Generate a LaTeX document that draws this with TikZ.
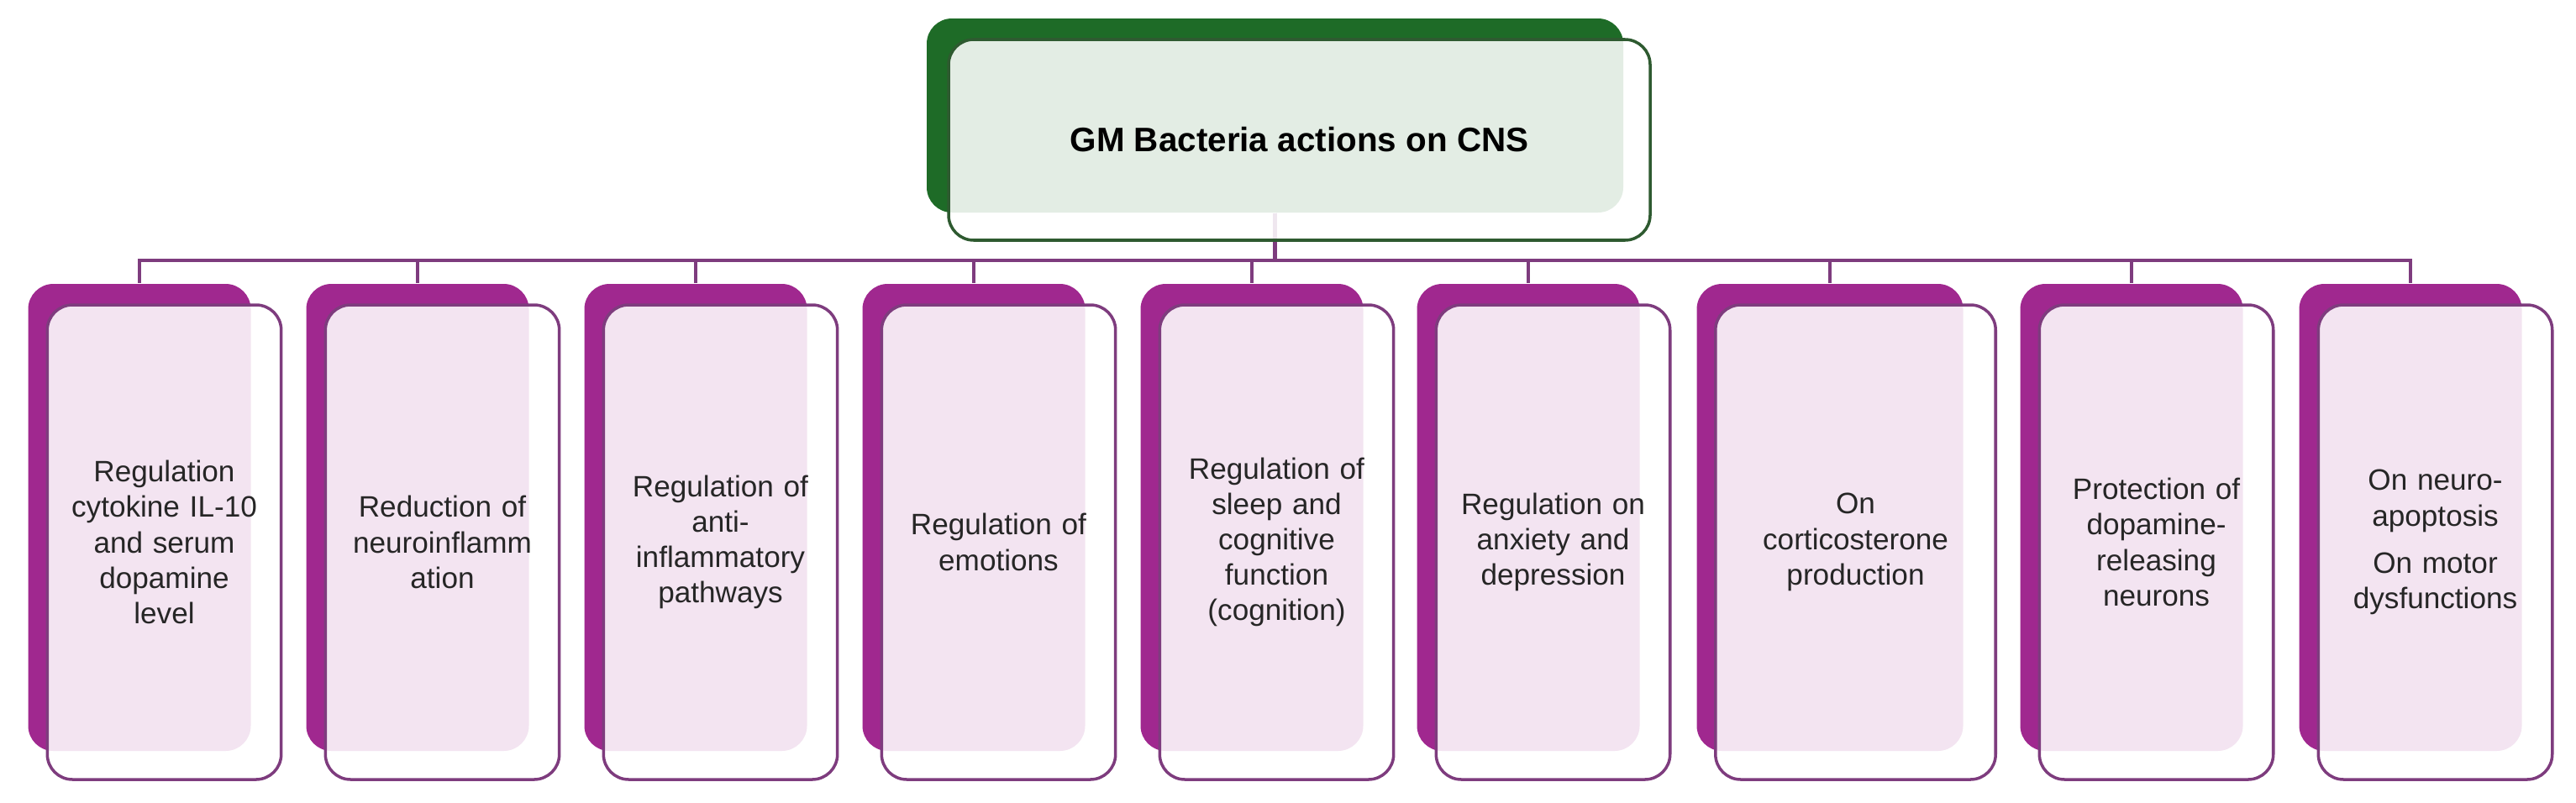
\documentclass[tikz,border=0pt]{standalone}
\usepackage{fontspec}
\setmainfont{Liberation Sans}
\usetikzlibrary{positioning}

\definecolor{gmgreen}{HTML}{1E6B27}
\definecolor{gmgreenline}{HTML}{2E5A30}
\definecolor{gmpurple}{HTML}{A0288F}
\definecolor{gmpurpleline}{HTML}{7E3C7E}
\definecolor{gmtext}{HTML}{262626}

\begin{document}
\begin{tikzpicture}[
    backbox/.style  = { rectangle, rounded corners=0.3cm, fill=gmpurple,
                        minimum width=2.65cm, minimum height=5.56cm, inner sep=0pt },
    frontbox/.style = { rectangle, rounded corners=0.3cm, draw=gmpurpleline, line width=1pt,
                        fill=white, fill opacity=0.88, text opacity=1,
                        minimum width=2.73cm, minimum height=5.65cm,
                        text width=2.55cm, align=center, font=\fontsize{10}{12}\selectfont,
                        text=gmtext },
    link/.style     = { draw=gmpurpleline, line width=1.2pt },
    ]

    \useasboundingbox (0,0) rectangle (30.66,-9.55);

    % root
    \node[rectangle, rounded corners=0.3cm, fill=gmgreen, inner sep=0pt,
          minimum width=8.29cm, minimum height=2.31cm] (gmback) at (15.175,-1.375) {};

    % cards, back layer
    \node[backbox] (b1) at (1.66,-6.16) {};
    \node[backbox] (b2) at (4.97,-6.16) {};
    \node[backbox] (b3) at (8.28,-6.16) {};
    \node[backbox] (b4) at (11.59,-6.16) {};
    \node[backbox] (b5) at (14.90,-6.16) {};
    \node[backbox] (b6) at (18.19,-6.16) {};
    \node[backbox, minimum width=3.17cm] (b7) at (21.78,-6.16) {};
    \node[backbox] (b8) at (25.37,-6.16) {};
    \node[backbox] (b9) at (28.69,-6.16) {};

    % tree
    \coordinate (bar) at (15.175,-3.10);
    \foreach \i in {1,...,9}
        \draw[link] (gmback.south) -- (bar) -| (b\i.north);

    \node[rectangle, rounded corners=0.3cm, draw=gmgreenline, line width=1pt,
          fill=white, fill opacity=0.88, text opacity=1,
          minimum width=8.35cm, minimum height=2.39cm,
          font=\fontsize{11.5}{14}\selectfont\bfseries, text=black]
          (gm) at (15.465,-1.665) {GM Bacteria actions on CNS};

    % cards, front layer
    \node[frontbox] (f1) at (1.955,-6.455) {Regulation\\cytokine IL-10\\and serum\\dopamine\\level};
    \node[frontbox] (f2) at (5.265,-6.455) {Reduction of\\neuroinflamm\\ation};
    \node[frontbox] (f3) at (8.575,-6.455) {Regulation of\\anti-\\inflammatory\\pathways};
    \node[frontbox] (f4) at (11.885,-6.455) {Regulation of\\emotions};
    \node[frontbox] (f5) at (15.195,-6.455) {Regulation of\\sleep and\\cognitive\\function\\(cognition)};
    \node[frontbox] (f6) at (18.485,-6.455) {Regulation on\\anxiety and\\depression};
    \node[frontbox, minimum width=3.29cm, text width=3.1cm] (f7) at (22.085,-6.455) {On\\corticosterone\\production};
    \node[frontbox] (f8) at (25.665,-6.455) {Protection of\\dopamine-\\releasing\\neurons};
    \node[frontbox] (f9) at (28.985,-6.455) {On neuro-\\apoptosis\\[4pt]On motor\\dysfunctions};

\end{tikzpicture}
\end{document}
